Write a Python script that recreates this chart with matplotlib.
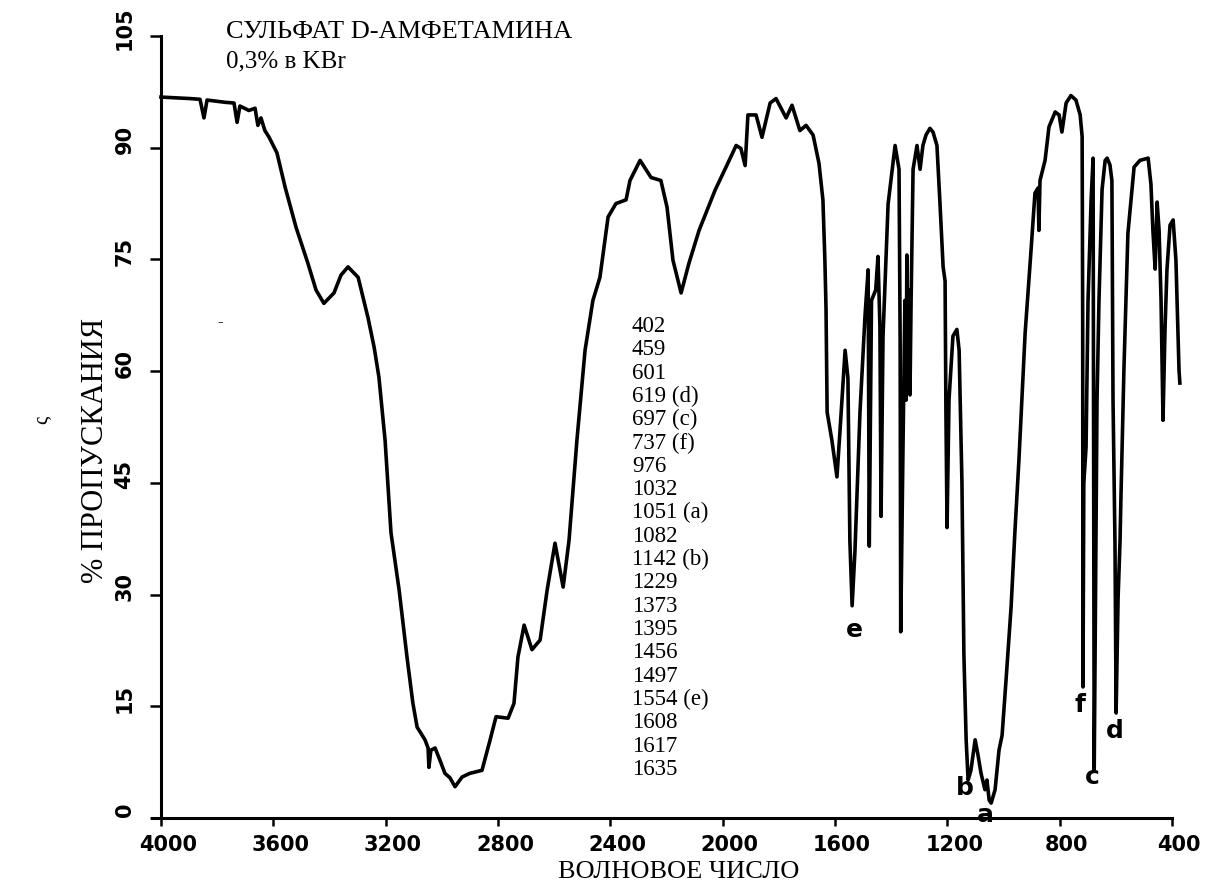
import matplotlib
matplotlib.use('Agg')
import matplotlib.pyplot as plt
from matplotlib.transforms import ScaledTranslation

plt.rcParams['font.family'] = ['Liberation Serif', 'DejaVu Serif']

# IR spectrum (wavenumber, % transmittance)
wavenumber = [
    4000, 3897, 3861, 3847, 3836, 3772, 3740, 3729, 3719, 3687, 3665, 3655, 3644,
    3630, 3615, 3587, 3558, 3519, 3477, 3448, 3420, 3384, 3359, 3334, 3298, 3263,
    3241, 3224, 3202, 3181, 3152, 3124, 3103, 3088, 3060, 3049, 3046, 3039, 3024,
    3003, 2989, 2971, 2953, 2928, 2900, 2857, 2828, 2807, 2764, 2743, 2729, 2707,
    2679, 2650, 2625, 2597, 2568, 2547, 2519, 2490, 2462, 2437, 2408, 2380, 2344,
    2330, 2294, 2255, 2220, 2198, 2177, 2148, 2120, 2084, 2027, 1988, 1952, 1935,
    1920, 1910, 1881, 1860, 1831, 1810, 1774, 1753, 1725, 1703, 1678, 1657, 1643,
    1636, 1632, 1628, 1611, 1593, 1582, 1564, 1554, 1547, 1539, 1529, 1511, 1493,
    1482, 1478, 1470, 1455, 1447, 1440, 1436, 1429, 1411, 1386, 1372, 1368, 1366,
    1358, 1351, 1347, 1344, 1340, 1336, 1333, 1329, 1322, 1308, 1297, 1287, 1276,
    1262, 1251, 1237, 1226, 1215, 1208, 1205, 1201, 1194, 1180, 1166, 1158, 1148,
    1141, 1133, 1126, 1116, 1101, 1091, 1080, 1066, 1059, 1051, 1044, 1030, 1016,
    1005, 991, 973, 959, 945, 923, 902, 888, 877, 874, 870, 852, 838, 816, 802,
    792, 777, 760, 742, 727, 720, 718, 717, 714, 706, 699, 688, 681, 677, 667,
    660, 649, 638, 631, 621, 614, 610, 603, 599, 592, 585, 582, 571, 557, 535,
    514, 485, 475, 468, 460, 453, 446, 439, 432, 425, 418, 407, 396, 386, 379,
    375, 372,
]
transmittance = [
    96.8, 96.6, 96.5, 94.0, 96.4, 96.1, 96.0, 93.4, 95.6, 95.0, 95.3, 93.0, 94.0,
    92.3, 91.4, 89.3, 84.7, 79.3, 74.5, 70.9, 69.1, 70.5, 72.9, 74.0, 72.6, 67.2,
    63.2, 59.2, 50.7, 38.3, 30.6, 21.6, 15.4, 12.2, 10.5, 9.4, 6.8, 9.1, 9.4,
    7.4, 6.0, 5.4, 4.2, 5.5, 6.0, 6.4, 10.5, 13.6, 13.4, 15.4, 21.6, 25.9,
    22.6, 23.9, 30.6, 36.9, 31.0, 37.3, 50.7, 62.8, 69.5, 72.6, 80.7, 82.5, 83.0,
    85.6, 88.3, 86.0, 85.6, 82.0, 74.9, 70.5, 74.5, 78.9, 84.3, 87.4, 90.3, 89.9,
    87.6, 94.4, 94.4, 91.4, 96.0, 96.6, 94.0, 95.7, 92.3, 93.0, 91.7, 87.9, 83.0,
    74.9, 68.5, 54.5, 50.7, 45.8, 52.1, 62.8, 59.1, 37.2, 28.5, 35.8, 54.5, 67.5,
    73.6, 36.5, 69.5, 70.9, 75.4, 66.0, 40.5, 64.7, 82.4, 90.3, 87.1, 63.8, 25.0,
    49.4, 69.5, 56.1, 75.6, 57.4, 70.9, 56.8, 69.5, 87.1, 90.3, 87.1, 90.3, 91.7,
    92.6, 92.1, 90.3, 82.4, 74.0, 72.1, 54.5, 39.0, 56.2, 64.7, 65.6, 62.8, 45.1,
    21.9, 10.5, 5.1, 6.4, 10.5, 8.5, 6.0, 3.8, 5.1, 2.4, 2.0, 3.8, 9.1,
    11.1, 18.5, 28.3, 38.7, 48.1, 65.1, 76.2, 83.9, 84.6, 78.9, 85.6, 88.3, 92.8, 94.8, 94.4,
    92.1, 96.0, 97.0, 96.4, 94.4, 91.5, 66.6, 17.6, 45.0, 49.8, 69.5, 83.0, 88.6, 6.3, 56.1,
    69.5, 84.4, 88.3, 88.6, 87.7, 85.6, 56.1, 36.8, 14.1, 29.5, 37.3, 42.7, 60.5, 78.5, 87.4,
    88.3, 88.6, 85.1, 78.9, 73.7, 82.7, 78.9, 69.5, 53.4, 65.5, 73.6, 79.6, 80.3, 74.9, 65.5,
    60.1, 58.4,
]

x_ticks = [4000, 3600, 3200, 2800, 2400, 2000, 1600, 1200, 800, 400]
y_ticks = [0, 15, 30, 45, 60, 75, 90, 105]

peak_list = ['402', '459', '601', '619 (d)', '697 (c)', '737 (f)', '976', '1032',
             '1051 (a)', '1082', '1142 (b)', '1229', '1373', '1395', '1456', '1497',
             '1554 (e)', '1608', '1617', '1635']

# letter marks under the main bands: (letter, wavenumber, transmittance)
peak_marks = [('e', 1532, 25.2), ('b', 1137, 4.0), ('a', 1066, 0.4),
              ('f', 727, 15.2), ('c', 685, 5.5), ('d', 603, 11.7)]

fig = plt.figure(figsize=(12.18, 8.89), dpi=100)
ax = fig.add_axes([152/1218, 71/889, 1020/1218, 782/889])

ax.plot(wavenumber, transmittance, color='black', lw=2.6, clip_on=False,
        solid_joinstyle='round')

ax.set_xlim(4032, 400)
ax.set_ylim(0, 105)

ax.spines['right'].set_color('none')
ax.spines['top'].set_color('none')
ax.spines['left'].set_position(('data', 4000))
ax.spines['left'].set_linewidth(2.2)
ax.spines['bottom'].set_linewidth(2.2)

ax.set_xticks(x_ticks)
ax.set_xticklabels([str(v) for v in x_ticks], fontfamily='DejaVu Sans',
                   fontweight='bold', fontsize=15)
ax.set_yticks(y_ticks)
ax.set_yticklabels([str(v) for v in y_ticks], fontfamily='DejaVu Sans',
                   fontweight='bold', fontsize=15, rotation=90, va='center')
ax.tick_params(axis='x', direction='out', length=6, width=1.8, pad=6)
ax.tick_params(axis='y', direction='out', length=8, width=1.8, pad=11)

# labels in the scan sit a little off their ticks
for lab in ax.get_xticklabels():
    lab.set_transform(lab.get_transform() + ScaledTranslation(0.07, 0, fig.dpi_scale_trans))
for lab in ax.get_yticklabels():
    lab.set_transform(lab.get_transform() + ScaledTranslation(0, 0.08, fig.dpi_scale_trans))

ax.set_xlabel('ВОЛНОВОЕ ЧИСЛО', fontsize=19, va='baseline')
ax.xaxis.set_label_coords(0.516, -0.077)
ax.text(-0.055, 0.47, '% ПРОПУСКАНИЯ', transform=ax.transAxes, rotation=90,
        ha='center', va='center', fontsize=22)

ax.text(0.0725, 1.005, 'СУЛЬФАТ D-АМФЕТАМИНА', transform=ax.transAxes,
        ha='left', va='center', fontsize=19)
ax.text(0.0725, 0.967, '0,3% в KBr', transform=ax.transAxes,
        ha='left', va='center', fontsize=18)

for i, s in enumerate(peak_list):
    ax.text(2323, 66.0 - i*3.13, s, ha='left', va='center', fontsize=16.5)

for letter, wn, tr in peak_marks:
    ax.text(wn, tr, letter, ha='center', va='center', fontfamily='DejaVu Sans',
            fontweight='bold', fontsize=18)

# specks from the scan
ax.text(3790, 66.6, '-', ha='center', va='center', fontsize=12)
ax.text(-0.108, 0.509, 'ς', transform=ax.transAxes, ha='center', va='center',
        fontsize=15, rotation=90)

fig.savefig('out.png', dpi=100)
